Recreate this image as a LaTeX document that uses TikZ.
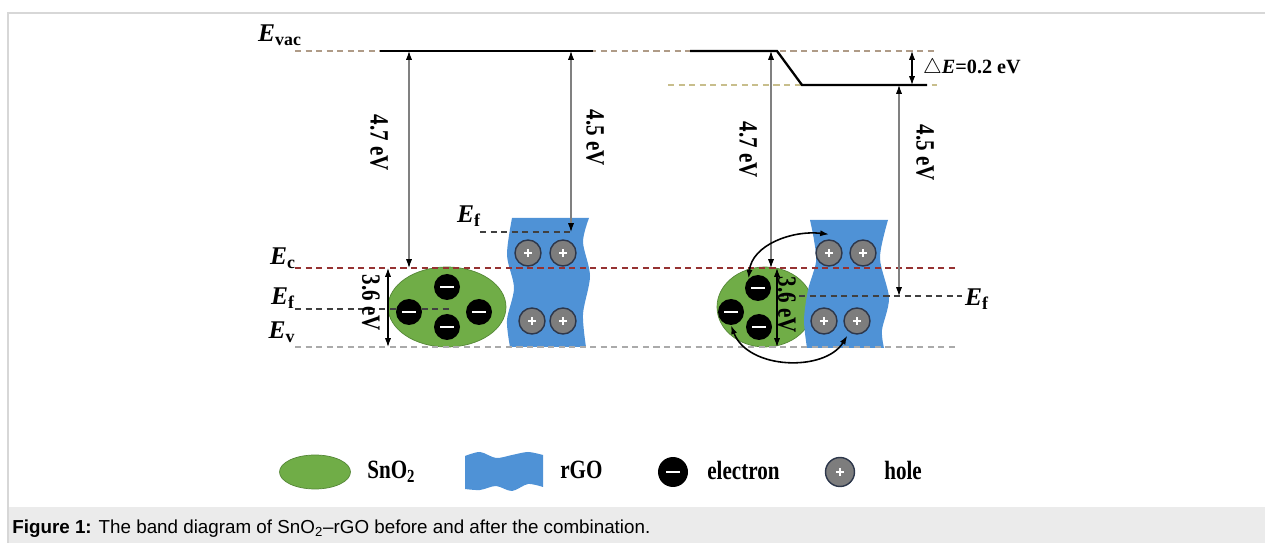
\documentclass[tikz,border=0pt]{standalone}
\usepackage{fontspec}
\setmainfont{Liberation Serif}
\newfontfamily\capfont{Liberation Sans}
\newfontfamily\narrowfont{Liberation Serif}[FakeStretch=0.8]
\usetikzlibrary{arrows.meta}

\definecolor{sno}{RGB}{112,173,71}
\definecolor{snoedge}{RGB}{85,135,55}
\definecolor{rgo}{RGB}{79,146,214}
\definecolor{holegray}{RGB}{125,125,125}
\definecolor{holeedge}{RGB}{45,55,75}
\definecolor{ecred}{RGB}{150,50,50}
\definecolor{levgray}{RGB}{170,170,170}
\definecolor{vacline}{RGB}{175,155,135}
\definecolor{shiftline}{RGB}{200,190,140}
\definecolor{capband}{RGB}{235,235,235}
\definecolor{framegray}{RGB}{215,215,215}

\newcommand{\elev}[1]{{\bfseries\itshape E}\textsubscript{\bfseries #1}}

\tikzset{
  x=0.02cm, y=-0.02cm,
  >={Latex[length=5pt,width=3.5pt,black]},
  electron/.style={circle, fill=black, minimum size=0.52cm, inner sep=0pt,
    path picture={\draw [white, line width=1pt] ([xshift=-0.14cm]path picture bounding box.center) -- ([xshift=0.14cm]path picture bounding box.center);}},
  hole/.style={circle, fill=holegray, draw=holeedge, line width=0.8pt, minimum size=0.52cm, inner sep=0pt,
    path picture={\draw [white, line width=0.8pt] ([xshift=-0.08cm]path picture bounding box.center) -- ([xshift=0.08cm]path picture bounding box.center)
      ([yshift=-0.08cm]path picture bounding box.center) -- ([yshift=0.08cm]path picture bounding box.center);}},
  level/.style={dash pattern=on 3.5pt off 2.5pt, line width=0.7pt},
  gaparrow/.style={<->, draw=gray, line width=0.6pt},
  levlabel/.style={font=\fontsize{14.5}{16}\selectfont},
  evlabel/.style={rotate=-90, font=\narrowfont\bfseries\fontsize{15}{17}\selectfont},
  keylabel/.style={anchor=west, inner sep=0pt, font=\narrowfont\bfseries\fontsize{15}{17}\selectfont}
}

\begin{document}
\begin{tikzpicture}

\useasboundingbox (0,0) rectangle (1265,543);
\fill [capband] (8,507) rectangle (1265,543);
\draw [framegray, line width=0.6pt] (8,543) -- (8,13) -- (1265,13);

% shapes, before
\filldraw [fill=sno, draw=snoedge, thin] (447,307) ellipse [x radius=1.18cm, y radius=0.8cm];
\fill [rgo] plot [smooth] coordinates {(589,218) (583,242) (590,276) (583,314) (586,347)}
  -- plot [smooth] coordinates {(510,347) (507,320) (514,288) (507,255) (512,218)} -- cycle;

% shapes, after
\filldraw [fill=sno, draw=snoedge, thin] (765,307) ellipse [x radius=0.96cm, y radius=0.8cm];
\fill [rgo] plot [smooth] coordinates {(888,220) (880,258) (889,298) (882,330) (884,348)}
  -- plot [smooth] coordinates {(807,348) (804,320) (808,290) (816,262) (814,240) (810,220)} -- cycle;

% energy levels
\draw [level, vacline] (295,51) -- (937,51);
\draw [level, shiftline] (668,85) -- (937,85);
\draw [level, ecred] (295,268) -- (955,268);
\draw [level, levgray] (295,347) -- (955,347);
\draw [level, black!75] (295,309) -- (450,309);
\draw [level, black!75] (480,232) -- (571,232);
\draw [level, black!75] (778,296) -- (962,296);
\draw [line width=1.3pt] (380,51) -- (593,51);
\draw [line width=1.3pt] (690,51) -- (777,51) -- (802,85) -- (927,85);

% named end points of the arrows
\coordinate (vacA) at (409,51);
\coordinate (ecA) at (409,268);
\coordinate (vacB) at (571,51);
\coordinate (efB) at (571,232);
\coordinate (gapA1) at (388,268);
\coordinate (gapA2) at (388,347);
\coordinate (vacC) at (771,51);
\coordinate (ecC) at (771,268);
\coordinate (vacD) at (899,85);
\coordinate (efD) at (899,296);
\coordinate (gapC1) at (777,268);
\coordinate (gapC2) at (777,347);
\coordinate (dE1) at (912,51);
\coordinate (dE2) at (912,85);

% carriers, before
\node (eA1) at (447,287) [electron] {};
\node (eA2) at (409,312) [electron] {};
\node (eA3) at (479,312) [electron] {};
\node (eA4) at (447,327) [electron] {};
\node (hA1) at (528,253) [hole] {};
\node (hA2) at (563,253) [hole] {};
\node (hA3) at (532,321) [hole] {};
\node (hA4) at (563,321) [hole] {};

% carriers, after
\node (eC1) at (758,288) [electron] {};
\node (eC2) at (731,312) [electron] {};
\node (eC3) at (759,327) [electron] {};
\node (hC1) at (829,253) [hole] {};
\node (hC2) at (863,253) [hole] {};
\node (hC3) at (824,321) [hole] {};
\node (hC4) at (857,321) [hole] {};

\draw [gaparrow] (vacA) -- (ecA);
\draw [gaparrow] (vacB) -- (efB);
\draw [gaparrow] (vacC) -- (ecC);
\draw [gaparrow] (vacD) -- (efD);
\draw [<->, line width=0.6pt] (gapA1) -- (gapA2);
\draw [<->, line width=0.6pt] (gapC1) -- (gapC2);
\draw [<->, line width=0.6pt] (dE1) -- (dE2);
\draw [<->, line width=0.9pt] (eC1.north west) .. controls (752,245) and (792,230) .. ([yshift=0.1cm]hC1.north);
\draw [<->, line width=0.9pt] (eC2.south) .. controls (748,370) and (825,372) .. ([yshift=-0.1cm]hC4.south west);

\node (lvac) at (280,35) [levlabel] {\elev{vac}};
\node (lc) at (283,258) [levlabel] {\elev{c}};
\node (lfA) at (283,298) [levlabel] {\elev{f}};
\node (lv) at (282,332) [levlabel] {\elev{v}};
\node (lfB) at (469,216) [levlabel] {\elev{f}};
\node (lfD) at (977,299) [levlabel] {\elev{f}};

\node (wA) at (379,143) [evlabel] {4.7 eV};
\node (wB) at (595,138) [evlabel] {4.5 eV};
\node (wC) at (748,150) [evlabel] {4.7 eV};
\node (wD) at (925,153) [evlabel] {4.5 eV};
\node (gA) at (371,303) [evlabel] {3.6 eV};
\node (gC) at (787,305) [evlabel] {3.6 eV};
\node (dE) at (917,68) [anchor=west, font=\bfseries\fontsize{11.5}{13}\selectfont] {$\triangle$\textit{E}=0.2 eV};

% legend
\filldraw [fill=sno, draw=snoedge, thin] (315,472) ellipse [x radius=0.71cm, y radius=0.34cm];
\fill [rgo] plot [smooth] coordinates {(465,456) (480,452) (496,458) (512,455) (528,452) (543,455)}
  -- (543,487) -- plot [smooth] coordinates {(543,487) (528,484) (512,491) (496,486) (480,490) (465,489)} -- cycle;
\node (keyE) at (673,472) [electron, minimum size=0.6cm] {};
\node (keyH) at (840,472) [hole, minimum size=0.58cm] {};
\node (tS) at (367,472) [keylabel] {SnO\textsubscript{2}};
\node (tR) at (560,470) [keylabel] {rGO};
\node (tE) at (707,470) [keylabel] {electron};
\node (tH) at (884,470) [keylabel] {hole};

\node (cap) at (12,529) [anchor=west, inner sep=0pt, font=\capfont\fontsize{10.7}{12}\selectfont] {\textbf{Figure 1:} The band diagram of SnO\textsubscript{2}\textendash rGO before and after the combination.};

\end{tikzpicture}
\end{document}
